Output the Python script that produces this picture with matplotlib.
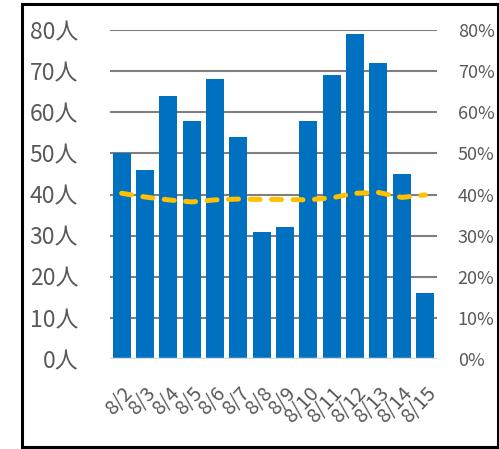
import matplotlib
matplotlib.use("Agg")
import matplotlib.pyplot as plt
from matplotlib.patches import Rectangle

plt.rcParams['font.family'] = ['Noto Sans CJK JP', 'DejaVu Sans']

# データ
dates = ['8/2', '8/3', '8/4', '8/5', '8/6', '8/7', '8/8', '8/9',
         '8/10', '8/11', '8/12', '8/13', '8/14', '8/15']
people = [50, 46, 64, 58, 68, 54, 31, 32, 58, 69, 79, 72, 45, 16]
rate = [40.3, 39.4, 38.7, 38.2, 38.7, 38.9, 38.8, 38.8,
        38.7, 39.2, 40.3, 40.5, 39.3, 39.9]
left_ticks = [0, 10, 20, 30, 40, 50, 60, 70, 80]
right_ticks = [0, 10, 20, 30, 40, 50, 60, 70, 80]

grey = '#595959'

fig = plt.figure(figsize=(4.99, 4.49), dpi=100)
ax = fig.add_axes([0.2204, 0.2004, 0.655, 0.7327])

x = list(range(len(dates)))
ax.bar(x, people, width=0.77, color='#0070C0', zorder=2)
ax.set_xlim(-0.5, len(dates) - 0.5)
ax.set_ylim(0, 80)
ax.set_yticks(left_ticks)
ax.set_yticklabels([f'{v}人' for v in left_ticks], fontsize=16.5, color=grey)
ax.set_xticks(x)
ax.set_xticklabels(dates, rotation=47, ha='right', va='top',
                   rotation_mode='anchor', fontsize=14.5, color=grey)
ax.tick_params(axis='y', length=0, pad=23)
ax.tick_params(axis='x', length=0, pad=17)
for v in left_ticks[1:]:
    ax.axhline(v, color='#7f7f7f', lw=1.5, zorder=1)
ax.axhline(0, color='#d9d9d9', lw=2.5, zorder=3)
for s in ax.spines.values():
    s.set_visible(False)

# 右軸
ax2 = ax.twinx()
ax2.plot(x, rate, color='#FFC000', lw=3.6, dashes=(2.0, 2.3),
         dash_capstyle='round', solid_capstyle='round', zorder=4)
ax2.set_ylim(0, 80)
ax2.set_yticks(right_ticks)
ax2.set_yticklabels([f'{v}%' for v in right_ticks], fontsize=13, color=grey)
ax2.tick_params(axis='y', length=0, pad=15)
for s in ax2.spines.values():
    s.set_visible(False)

# 外枠
fig.patches.append(Rectangle((21.5 / 499, 2.0 / 449), 476 / 499, 443 / 449,
                             transform=fig.transFigure, fill=False,
                             edgecolor='black', lw=2.2))

fig.savefig('out.png', dpi=100)
